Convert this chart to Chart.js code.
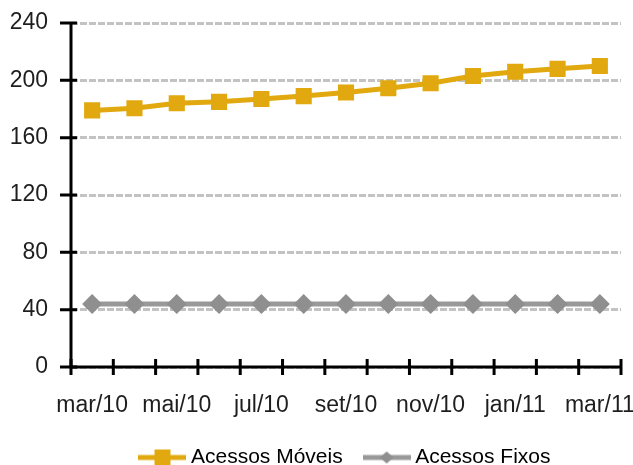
<!DOCTYPE html>
<html>
<head>
<meta charset="utf-8">
<script src="https://cdn.jsdelivr.net/npm/chart.js@4"></script>
<style>
  html, body { margin: 0; padding: 0; background: #fff; }
  #wrap { width: 633px; height: 465px; }
</style>
</head>
<body>
<div id="wrap"><canvas id="chart"></canvas></div>
<script>
const months = ['mar/10','abr/10','mai/10','jun/10','jul/10','ago/10','set/10','out/10','nov/10','dez/10','jan/11','fev/11','mar/11'];
const moveis = [179, 180.5, 184, 185, 187, 189, 191.5, 194.5, 198, 203, 206, 208, 210];
const fixos  = [44, 44, 44, 44, 44, 44, 44, 44, 44, 44, 44, 44, 44];
const yTicks = [0, 40, 80, 120, 160, 200, 240];

const YELLOW = '#E1A90F';
const GRAY = '#999999';
const DGRAY = '#8f8f8f';
const TEXT = '#1e1e1e';
const FONT = "'Liberation Sans', Arial, sans-serif";

// legend swatch: line with marker in the middle
const swatch = (color, mark, style) => {
  const c = document.createElement('canvas');
  c.width = 48; c.height = 18;
  const g = c.getContext('2d');
  g.strokeStyle = color; g.lineWidth = 5;
  g.beginPath(); g.moveTo(0, 9); g.lineTo(48, 9); g.stroke();
  g.fillStyle = mark;
  g.beginPath();
  if (style === 'rect') g.rect(16, 1, 16, 16);
  else { g.moveTo(24, 3); g.lineTo(31, 9); g.lineTo(24, 15); g.lineTo(17, 9); g.closePath(); }
  g.fill();
  return c;
};
const swatches = [swatch(YELLOW, YELLOW, 'rect'), swatch(GRAY, DGRAY, 'diamond')];

// black axes, ticks cross the lines; legend nudged right like the original
const axesPlugin = {
  id: 'axes',
  beforeDraw(chart) {
    const lg = chart.legend;
    if (lg && !lg._moved) { lg.left += 37; lg.right += 37; lg._moved = true; }
  },
  afterDraw(chart) {
    const {ctx, chartArea: a, scales: {x, y}} = chart;
    ctx.save();
    ctx.strokeStyle = '#000';
    ctx.lineWidth = 3;
    ctx.beginPath();
    ctx.moveTo(a.left, a.top); ctx.lineTo(a.left, a.bottom); ctx.lineTo(a.right, a.bottom);
    ctx.stroke();
    ctx.beginPath();
    y.ticks.forEach((t, i) => {
      const py = y.getPixelForTick(i);
      ctx.moveTo(a.left - 11, py); ctx.lineTo(a.left + 6, py);
    });
    for (let i = 0; i <= months.length; i++) {
      const px = x.getPixelForValue(i - 0.5);
      ctx.moveTo(px, a.bottom - 8); ctx.lineTo(px, a.bottom + 8);
    }
    ctx.stroke();
    ctx.restore();
  }
};

new Chart(document.getElementById('chart'), {
  type: 'line',
  data: {
    labels: months,
    datasets: [
      {
        label: 'Acessos Móveis', data: moveis,
        borderColor: YELLOW, backgroundColor: YELLOW, borderWidth: 5,
        pointStyle: 'rect', pointRadius: 10, pointBorderWidth: 2,
        pointBorderColor: YELLOW, pointBackgroundColor: YELLOW, tension: 0
      },
      {
        label: 'Acessos Fixos', data: fixos,
        borderColor: GRAY, backgroundColor: DGRAY, borderWidth: 5,
        pointStyle: 'rectRot', pointRadius: 10, pointBorderWidth: 0,
        pointBackgroundColor: DGRAY, tension: 0
      }
    ]
  },
  options: {
    responsive: true,
    maintainAspectRatio: false,
    animation: false,
    layout: { padding: { top: 23, right: 12, left: 0, bottom: -13 } },
    plugins: {
      tooltip: { enabled: false },
      legend: {
        position: 'bottom',
        labels: {
          usePointStyle: true,
          pointStyleWidth: 36,
          padding: 26,
          color: TEXT,
          font: { family: FONT, size: 21 },
          generateLabels: chart => chart.data.datasets.map((ds, i) => ({
            text: ds.label, pointStyle: swatches[i], datasetIndex: i,
            fillStyle: ds.borderColor, strokeStyle: ds.borderColor, lineWidth: 0, hidden: false
          }))
        }
      }
    },
    scales: {
      x: {
        offset: true,
        grid: { display: false, drawTicks: false },
        border: { display: false },
        ticks: {
          autoSkip: false, maxRotation: 0, padding: 25, color: TEXT,
          font: { family: FONT, size: 23 },
          callback: (v, i) => i % 2 === 0 ? months[i] : ''
        },
        afterFit: s => { s.height = 54; s.paddingLeft = 0; s.paddingRight = 0; }
      },
      y: {
        min: 0, max: 240,
        afterBuildTicks: s => { s.ticks = yTicks.map(v => ({ value: v })); },
        grid: { color: '#c3c3c3', lineWidth: 3, drawTicks: false },
        border: { display: false, dash: [7, 2] },
        ticks: { padding: 23, color: TEXT, font: { family: FONT, size: 23 } },
        afterFit: s => { s.width = 71; s.paddingTop = 0; s.paddingBottom = 0; }
      }
    }
  },
  plugins: [axesPlugin]
});
</script>
</body>
</html>
